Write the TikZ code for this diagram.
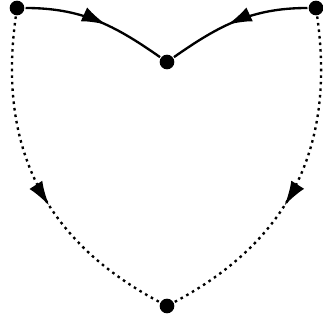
\documentclass[tikz,border=0pt]{standalone}
\usepackage{tikz}
\usetikzlibrary{arrows.meta,decorations.markings}

\tikzset{
  vtx/.style={circle,fill,inner sep=0pt,minimum size=0.44cm},
  midarrow/.style={postaction={decorate},decoration={markings,
    mark=at position #1 with {\arrow{Latex[length=21pt,width=13pt]}}}},
  dotline/.style={dash pattern=on 2.2pt off 3.4pt},
}

\begin{document}
\begin{tikzpicture}[x=0.03cm,y=0.03cm,line width=2pt]
\useasboundingbox (0,0) rectangle (323,320);
\node[vtx] (tl) at (17,312) {};
\node[vtx] (tr) at (316,312) {};
\node[vtx] (mid) at (167,258) {};
\node[vtx] (bot) at (167,14) {};
\draw[midarrow=0.57] (tl) to[out=0,in=145] (mid);
\draw[midarrow=0.57] (tr) to[out=180,in=35] (mid);
\draw[dotline,midarrow=0.57] (tl) to[out=-98,in=152,looseness=1.05] (bot);
\draw[dotline,midarrow=0.57] (tr) to[out=-82,in=28,looseness=1.05] (bot);
\end{tikzpicture}
\end{document}
